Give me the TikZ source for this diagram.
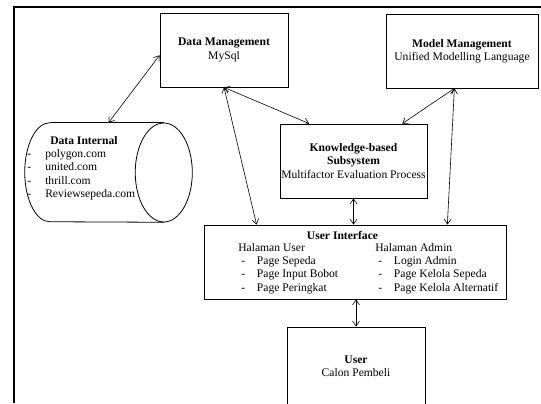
\documentclass[tikz,border=0pt]{standalone}
\usepackage{fontspec}
\setmainfont{Liberation Serif}
\usetikzlibrary{positioning, arrows.meta, shapes.geometric, calc}

\newcommand{\uientry}[1]{\makebox[14pt][l]{\hspace{2.25pt}-}#1}
\newcommand{\dientry}[1]{\makebox[13.5pt][l]{-}#1}

\begin{document}
\begin{tikzpicture}[
    x=0.75pt, y=-0.75pt,
    every node/.style={font=\fontsize{8.7}{10}\selectfont},
    module/.style={draw, line width=0.6pt, align=center, inner sep=1pt},
    store/.style={draw, line width=0.6pt},
    listing/.style={align=left, inner sep=0pt, anchor=north west},
    arrow/.style={{Straight Barb[length=1.3mm, width=1.8mm]}-{Straight Barb[length=1.3mm, width=1.8mm]},
                  line width=0.45pt},
    frame/.style={line width=1.6pt},
]
\useasboundingbox (0,0) rectangle (541,403);

% Outer frame
\draw[frame] (14,403) -- (14,7) -- (541,7);

% Management boxes
\node[module, minimum width=96pt, minimum height=55.5pt] (dm) at (224,50)
    {\textbf{Data Management}\\MySql};
\node[module, minimum width=114pt, minimum height=55.5pt] (mm) at (462,51)
    {\textbf{Model Management}\\Unified Modelling Language};

% Knowledge-based subsystem
\node[module, minimum width=110.25pt, minimum height=55.5pt] (kb) at (353.5,161)
    {\textbf{Knowledge-based}\\\textbf{Subsystem}\\Multifactor Evaluation Process};

% Data internal (cylinder drawn by hand round an empty node)
\node[minimum width=125.25pt, minimum height=74.25pt, inner sep=0pt] (di) at (108.5,172.5) {};
\draw[store] ($(di.north west)+(25,0)$)
    arc[start angle=90, end angle=270, x radius=18.75pt, y radius=37.125pt]
    -- ($(di.south east)+(-28.5,0)$);
\draw[store] ($(di.north west)+(25,0)$) -- ($(di.north east)+(-28.5,0)$);
\draw[store] ($(di.east)+(-28.5,0)$) ellipse[x radius=21.4pt, y radius=37.125pt];
\node[listing] (dilist) at (27,136)
    {\hspace{17.25pt}\textbf{Data Internal}\\
     \dientry{polygon.com}\\
     \dientry{united.com}\\
     \dientry{thrill.com}\\
     \dientry{Reviewsepeda.com}};

% User interface
\node[module, minimum width=226.5pt, minimum height=55.5pt] (ui) at (355,262) {};
\node (uititle) at (342.5,235) {\textbf{User Interface}};
\node[listing] (uiuser) at (238,243)
    {Halaman User\\
     \uientry{Page Sepeda}\\
     \uientry{Page Input Bobot}\\
     \uientry{Page Peringkat}};
\node[listing] (uiadmin) at (375,243)
    {Halaman Admin\\
     \uientry{Login Admin}\\
     \uientry{Page Kelola Sepeda}\\
     \uientry{Page Kelola Alternatif}};

% User
\node[module, minimum width=103.5pt, minimum height=58.5pt] (user) at (356,366)
    {\textbf{User}\\Calon Pembeli};

% Arrows
\draw[arrow] (di.north) -- ($(dm.north west)!0.57!(dm.south west)$);
\draw[arrow] (dm.south) -- ($(ui.north west)!0.175!(ui.north east)$);
\draw[arrow] (dm.south) -- ($(kb.north west)!0.2!(kb.north east)$);
\draw[arrow] ($(mm.south west)!0.45!(mm.south east)$) -- ($(kb.north west)!0.83!(kb.north east)$);
\draw[arrow] ($(mm.south west)!0.45!(mm.south east)$) -- ($(ui.north west)!0.805!(ui.north east)$);
\draw[arrow] (kb.south) -- (kb.south |- ui.north);
\draw[arrow] (user.north |- ui.south) -- (user.north);

\end{tikzpicture}
\end{document}
